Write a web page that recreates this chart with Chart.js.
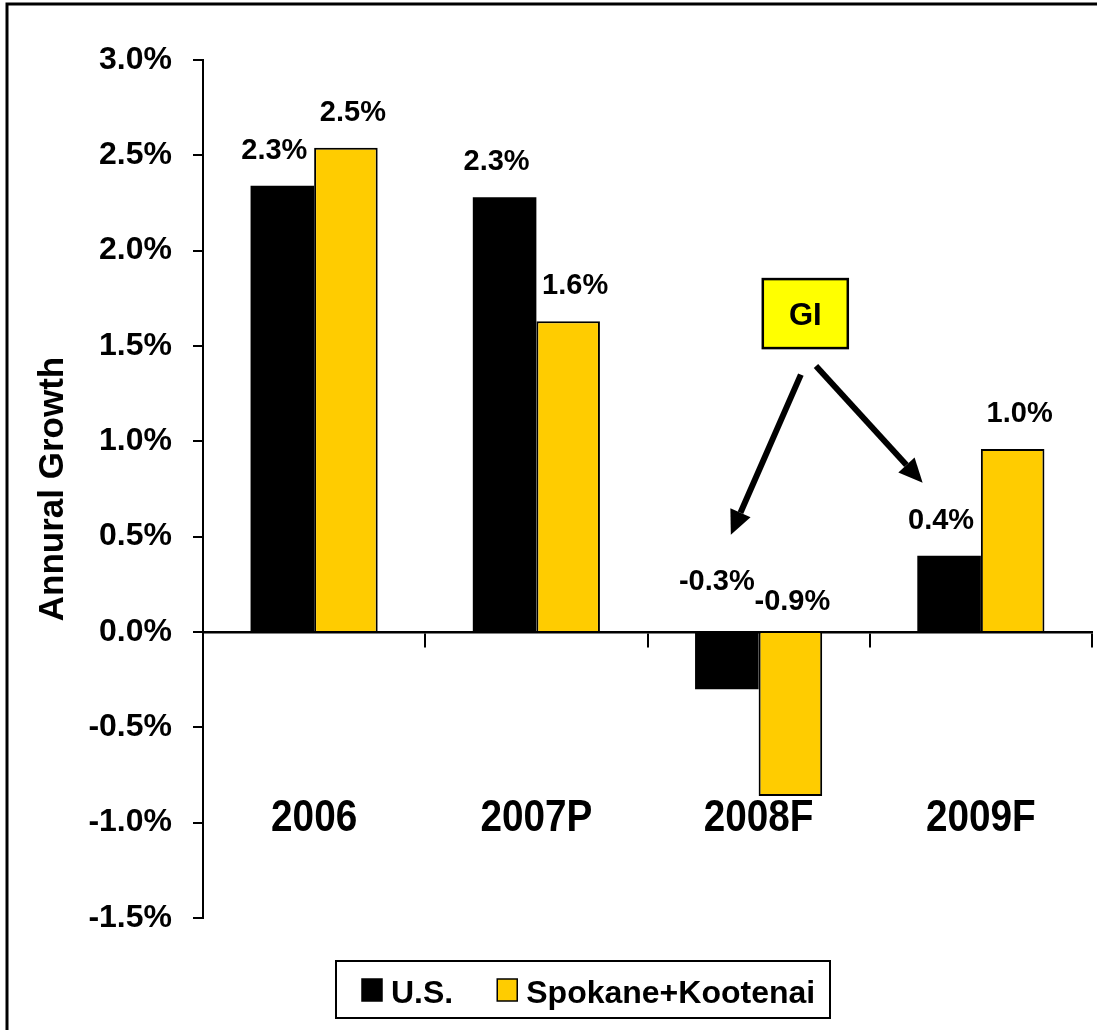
<!DOCTYPE html>
<html>
<head>
<meta charset="utf-8">
<script src="https://cdn.jsdelivr.net/npm/chart.js@4/dist/chart.umd.min.js"></script>
<style>
  html, body { margin: 0; padding: 0; background: #fff; }
  #wrap { width: 1097px; height: 1030px; position: relative; }
</style>
</head>
<body>
<div id="wrap"><canvas id="growth"></canvas></div>
<script>
const years = ['2006', '2007P', '2008F', '2009F'];
const usGrowth = [2.34, 2.28, -0.30, 0.40];
const spokaneGrowth = [2.54, 1.63, -0.86, 0.96];
const usLabels = ['2.3%', '2.3%', '-0.3%', '0.4%'];
const spokaneLabels = ['2.5%', '1.6%', '-0.9%', '1.0%'];
const seriesNames = ['U.S.', 'Spokane+Kootenai'];

// callout: box centre and arrows in (category index, % growth)
const giBox = { label: 'GI', x: 2.21, y: 1.67 };
const giArrows = [
  { from: [2.19, 1.35], to: [1.875, 0.51] },
  { from: [2.258, 1.395], to: [2.738, 0.783] }
];

const FONT = "'Liberation Sans', Arial, sans-serif";
const YELLOW = '#FFCC00';

const barLabels = {
  id: 'barLabels',
  afterDatasetsDraw(chart) {
    const ctx = chart.ctx;
    const zero = chart.scales.y.getPixelForValue(0);
    const texts = [usLabels, spokaneLabels];
    ctx.save();
    ctx.font = `bold 29px ${FONT}`;
    ctx.fillStyle = '#000';
    ctx.textAlign = 'center';
    ctx.textBaseline = 'alphabetic';
    chart.data.datasets.forEach((ds, di) => {
      const meta = chart.getDatasetMeta(di);
      meta.data.forEach((bar, i) => {
        const v = ds.data[i];
        let x = bar.x + (di === 0 ? -8 : 7);
        let y;
        if (v >= 0) {
          y = bar.y - 27;
        } else {
          y = zero - (di === 0 ? 42 : 22);
          x = bar.x + (di === 0 ? -10 : 2);
        }
        ctx.fillText(texts[di][i], x, y);
      });
    });
    ctx.restore();
  }
};

// category names sit inside the plot near -1.0%, drawn a little condensed
const categoryLabels = {
  id: 'categoryLabels',
  afterDraw(chart) {
    const ctx = chart.ctx;
    const xs = chart.scales.x;
    const y = chart.scales.y.getPixelForValue(-0.98);
    ctx.save();
    ctx.font = `bold 44px ${FONT}`;
    ctx.fillStyle = '#000';
    ctx.textAlign = 'center';
    ctx.textBaseline = 'middle';
    years.forEach((label, i) => {
      ctx.save();
      ctx.translate(xs.getPixelForValue(i), y);
      ctx.scale(0.88, 1);
      ctx.fillText(label, 0, 0);
      ctx.restore();
    });
    ctx.restore();
  }
};

function drawArrow(ctx, x1, y1, x2, y2) {
  const ang = Math.atan2(y2 - y1, x2 - x1);
  const headLen = 24, headHalf = 11;
  const bx = x2 - headLen * Math.cos(ang);
  const by = y2 - headLen * Math.sin(ang);
  ctx.beginPath();
  ctx.moveTo(x1, y1);
  ctx.lineTo(bx, by);
  ctx.stroke();
  ctx.beginPath();
  ctx.moveTo(x2, y2);
  ctx.lineTo(bx + headHalf * Math.sin(ang), by - headHalf * Math.cos(ang));
  ctx.lineTo(bx - headHalf * Math.sin(ang), by + headHalf * Math.cos(ang));
  ctx.closePath();
  ctx.fill();
}

const callout = {
  id: 'callout',
  afterDraw(chart) {
    const ctx = chart.ctx;
    const xs = chart.scales.x, ys = chart.scales.y;
    ctx.save();
    ctx.strokeStyle = '#000';
    ctx.fillStyle = '#000';
    ctx.lineWidth = 6;
    ctx.lineCap = 'butt';
    giArrows.forEach((a) => {
      drawArrow(ctx,
        xs.getPixelForValue(a.from[0]), ys.getPixelForValue(a.from[1]),
        xs.getPixelForValue(a.to[0]), ys.getPixelForValue(a.to[1]));
    });
    const cx = xs.getPixelForValue(giBox.x);
    const cy = ys.getPixelForValue(giBox.y);
    const w = 85, h = 69;
    ctx.fillStyle = '#FFFF00';
    ctx.fillRect(cx - w / 2, cy - h / 2, w, h);
    ctx.lineWidth = 2.5;
    ctx.strokeRect(cx - w / 2, cy - h / 2, w, h);
    ctx.fillStyle = '#000';
    ctx.font = `bold 31px ${FONT}`;
    ctx.textAlign = 'center';
    ctx.textBaseline = 'alphabetic';
    ctx.fillText(giBox.label, cx, cy + 11);
    ctx.restore();
  }
};

const boxLegend = {
  id: 'boxLegend',
  afterDraw(chart) {
    const ctx = chart.ctx;
    ctx.save();
    ctx.lineWidth = 2;
    ctx.strokeStyle = '#000';
    ctx.strokeRect(336, 961, 494, 57);
    ctx.font = `bold 32px ${FONT}`;
    ctx.textBaseline = 'alphabetic';
    ctx.textAlign = 'left';
    let x = 362;
    chart.data.datasets.forEach((ds) => {
      ctx.fillStyle = ds.backgroundColor;
      ctx.fillRect(x, 979, 20, 22);
      ctx.lineWidth = 1.5;
      ctx.strokeRect(x, 979, 20, 22);
      x += 29;
      ctx.fillStyle = '#000';
      ctx.fillText(ds.label, x, 1003);
      x += ctx.measureText(ds.label).width + 44;
    });
    ctx.restore();
  }
};

const outerFrame = {
  id: 'outerFrame',
  afterDraw(chart) {
    const ctx = chart.ctx;
    ctx.save();
    ctx.lineWidth = 3;
    ctx.strokeStyle = '#000';
    ctx.strokeRect(7, 4, 1110, 1050);
    ctx.restore();
  }
};

new Chart(document.getElementById('growth'), {
  type: 'bar',
  data: {
    labels: years,
    datasets: [
      {
        label: seriesNames[0],
        data: usGrowth,
        backgroundColor: '#000000',
        borderColor: '#000000',
        borderWidth: 0,
        categoryPercentage: 0.572,
        barPercentage: 1.0
      },
      {
        label: seriesNames[1],
        data: spokaneGrowth,
        backgroundColor: YELLOW,
        borderColor: '#000000',
        borderWidth: 2,
        categoryPercentage: 0.572,
        barPercentage: 1.0
      }
    ]
  },
  options: {
    responsive: true,
    maintainAspectRatio: false,
    animation: false,
    layout: { padding: { top: 60, right: 5, bottom: 112, left: 10 } },
    scales: {
      x: {
        position: { y: 0 },
        offset: true,
        grid: { offset: true, drawOnChartArea: false, drawTicks: true, tickLength: 14, color: '#000', lineWidth: 2 },
        border: { display: true, color: '#000', width: 2.5 },
        ticks: { display: false }
      },
      y: {
        min: -1.5,
        max: 3.0,
        afterFit(scale) { scale.width = 193; },
        ticks: {
          stepSize: 0.5,
          padding: 21,
          color: '#000',
          font: { family: FONT, size: 32, weight: 'bold' },
          callback: (v) => v.toFixed(1) + '%'
        },
        grid: { drawOnChartArea: false, drawTicks: true, tickLength: 10, color: '#000', lineWidth: 2 },
        border: { display: true, color: '#000', width: 2 },
        title: {
          display: true,
          text: 'Annural Growth',
          color: '#000',
          font: { family: FONT, size: 35, weight: 'bold' },
          padding: { top: 22, bottom: 0 }
        }
      }
    },
    plugins: {
      legend: { display: false },
      tooltip: { enabled: false }
    }
  },
  plugins: [barLabels, categoryLabels, callout, boxLegend, outerFrame]
});
</script>
</body>
</html>
